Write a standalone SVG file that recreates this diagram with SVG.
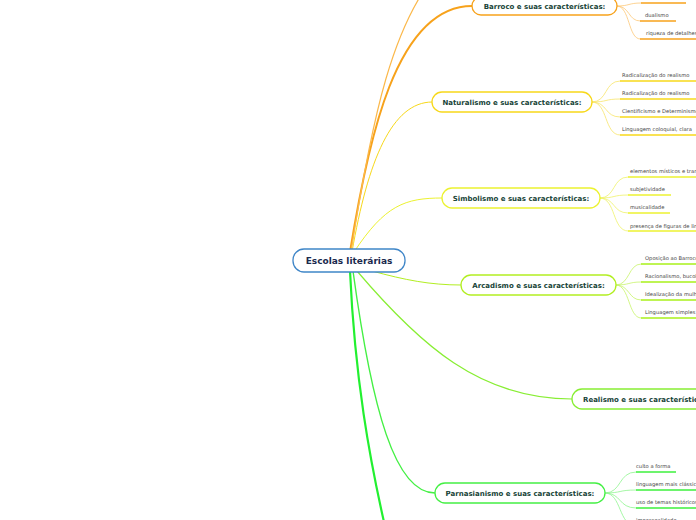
<svg xmlns="http://www.w3.org/2000/svg" width="696" height="520" viewBox="0 0 696 520">
<style>
.n{fill:#fff;stroke-width:1.3}
.t{font-family:"DejaVu Sans",Verdana,sans-serif;font-weight:bold;font-size:7px;fill:#184438}
.c{font-family:"DejaVu Sans",Verdana,sans-serif;font-weight:bold;font-size:9px;fill:#1b2a4e}
.l{font-family:"DejaVu Sans",Verdana,sans-serif;font-size:5.2px;fill:#444}
</style>
<rect width="696" height="520" fill="#fff"/>
<g id="connectors" fill="none" stroke-linecap="round">
<path d="M350,252 C368,140 396,6 472,6" stroke="#f7a21b" stroke-width="2"/>
<path d="M351,252 C370,130 392,10 450,-40" stroke="#fbb84a" stroke-width="1.2"/>
<path d="M352,252 C368,160 392,102 432,102" stroke="#f7d81a" stroke-width="1"/>
<path d="M354,252 C385,205 405,198 442,198" stroke="#ecf230" stroke-width="1"/>
<path d="M372,271 C405,280 430,285 461,285" stroke="#b2ee22" stroke-width="1"/>
<path d="M357,271 C420,345 480,399 572,399" stroke="#88ee33" stroke-width="1.2"/>
<path d="M353,271 C372,410 395,493 435,493" stroke="#44f044" stroke-width="1.4"/>
<path d="M350,271 C355,380 370,460 384,522" stroke="#22f030" stroke-width="2.2"/>
<g stroke="#fcc877" stroke-width="0.8">
<path d="M617,6 C630,6 628,3 641,3"/><path d="M617,6 C630,6 628,21 640,21"/><path d="M617,6 C630,6 628,39 640,39"/>
</g>
<g stroke="#f8e46a" stroke-width="0.8">
<path d="M592,102 C608,102 604,81 620,81"/><path d="M592,102 C608,102 604,99 620,99"/><path d="M592,102 C608,102 604,117 620,117"/><path d="M592,102 C608,102 604,135 620,135"/>
</g>
<g stroke="#eff36a" stroke-width="0.8">
<path d="M600,198 C616,198 612,177 628,177"/><path d="M600,198 C616,198 612,195 628,195"/><path d="M600,198 C616,198 612,213 628,213"/><path d="M600,198 C616,198 612,231 628,231"/>
</g>
<g stroke="#c8f46a" stroke-width="0.8">
<path d="M616,285 C630,285 628,264 641,264"/><path d="M616,285 C630,285 628,282 641,282"/><path d="M616,285 C630,285 628,300 641,300"/><path d="M616,285 C630,285 628,318 641,318"/>
</g>
<g stroke="#8ef58e" stroke-width="0.8">
<path d="M605,493 C622,493 618,472 636,472"/><path d="M605,493 C622,493 618,490 636,490"/><path d="M605,493 C622,493 618,508 636,508"/><path d="M605,493 C622,493 618,526 636,526"/>
</g>
</g>
<g id="center">
<rect class="n" x="293" y="249" width="112" height="23" rx="11" stroke="#3f86c8"/>
<text class="c" x="349" y="264" text-anchor="middle">Escolas literárias</text>
</g>
<g id="barroco">
<rect class="n" x="472" y="-3" width="145" height="18" rx="9" stroke="#f7a21b"/>
<text class="t" x="544.5" y="8.5" text-anchor="middle">Barroco e suas características:</text>
</g>
<g id="barroco-leaves" stroke="#f7a21b" stroke-width="1.3">
<line x1="641" y1="3" x2="686" y2="3"/>
<line x1="640" y1="21" x2="676" y2="21"/>
<line x1="640" y1="39" x2="696" y2="39"/>
<text class="l" stroke="none" x="645" y="17">dualismo</text>
<text class="l" stroke="none" x="646" y="35">riqueza de detalhes</text>
</g>
<g id="naturalismo">
<rect class="n" x="432" y="92" width="160" height="20" rx="10" stroke="#f7d81a"/>
<text class="t" x="512" y="104.5" text-anchor="middle">Naturalismo e suas características:</text>
</g>
<g id="naturalismo-leaves" stroke="#f7d81a" stroke-width="1.3">
<line x1="620" y1="81" x2="696" y2="81"/><line x1="620" y1="99" x2="696" y2="99"/><line x1="620" y1="117" x2="696" y2="117"/><line x1="620" y1="135" x2="696" y2="135"/>
<text class="l" stroke="none" x="622" y="77">Radicalização do realismo</text>
<text class="l" stroke="none" x="622" y="95">Radicalização do realismo</text>
<text class="l" stroke="none" x="622" y="113">Cientificismo e Determinismo</text>
<text class="l" stroke="none" x="622" y="131">Linguagem coloquial, clara</text>
</g>
<g id="simbolismo">
<rect class="n" x="442" y="188" width="158" height="20" rx="10" stroke="#ecf230"/>
<text class="t" x="521" y="200.5" text-anchor="middle">Simbolismo e suas características:</text>
</g>
<g id="simbolismo-leaves" stroke="#ecf230" stroke-width="1.3">
<line x1="628" y1="177" x2="696" y2="177"/><line x1="628" y1="195" x2="671" y2="195"/><line x1="628" y1="213" x2="670" y2="213"/><line x1="628" y1="231" x2="696" y2="231"/>
<text class="l" stroke="none" x="630" y="173">elementos místicos e transcendentais</text>
<text class="l" stroke="none" x="630" y="191">subjetividade</text>
<text class="l" stroke="none" x="630" y="209">musicalidade</text>
<text class="l" stroke="none" x="630" y="228">presença de figuras de linguagem</text>
</g>
<g id="arcadismo">
<rect class="n" x="461" y="275" width="155" height="20" rx="10" stroke="#b2ee22"/>
<text class="t" x="538.5" y="287.5" text-anchor="middle">Arcadismo e suas características:</text>
</g>
<g id="arcadismo-leaves" stroke="#a8f01a" stroke-width="1.3">
<line x1="641" y1="264" x2="696" y2="264"/><line x1="641" y1="282" x2="696" y2="282"/><line x1="641" y1="300" x2="696" y2="300"/><line x1="641" y1="318" x2="696" y2="318"/>
<text class="l" stroke="none" x="645" y="260">Oposição ao Barroco</text>
<text class="l" stroke="none" x="645" y="278">Racionalismo, bucolismo</text>
<text class="l" stroke="none" x="645" y="296">Idealização da mulher</text>
<text class="l" stroke="none" x="645" y="314">Linguagem simples</text>
</g>
<g id="realismo">
<rect class="n" x="572" y="389" width="150" height="20" rx="10" stroke="#88ee33"/>
<text class="t" x="583" y="401.5">Realismo e suas características:</text>
</g>
<g id="parnasianismo">
<rect class="n" x="435" y="483" width="170" height="20" rx="10" stroke="#44f044"/>
<text class="t" x="520" y="495.5" text-anchor="middle">Parnasianismo e suas características:</text>
</g>
<g id="parnasianismo-leaves" stroke="#3cf03c" stroke-width="1.3">
<line x1="636" y1="472" x2="676" y2="472"/><line x1="636" y1="490" x2="696" y2="490"/><line x1="636" y1="508" x2="696" y2="508"/><line x1="636" y1="526" x2="696" y2="526"/>
<text class="l" stroke="none" x="636" y="468">culto a forma</text>
<text class="l" stroke="none" x="636" y="486">linguagem mais clássica</text>
<text class="l" stroke="none" x="636" y="504">uso de temas históricos</text>
<text class="l" stroke="none" x="636" y="522">impessoalidade</text>
</g>
</svg>
